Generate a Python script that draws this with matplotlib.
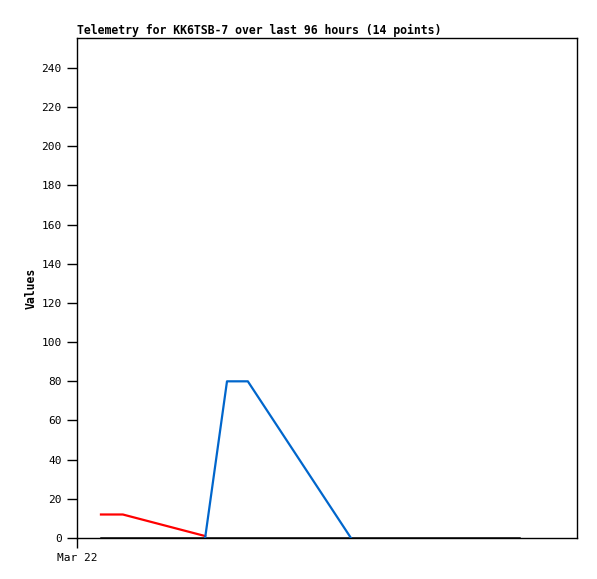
import matplotlib
matplotlib.use('Agg')
import matplotlib.pyplot as plt

# ── Data (hours after Mar 22 00:00)
red_hours   = [4.6, 8.8, 24.6]
red_values  = [12, 12, 1]

blue_hours  = [24.6, 28.8, 32.8, 52.6]
blue_values = [0, 80, 80, 0]

black_hours  = [4.6, 8.8, 24.6, 28.8, 32.8, 52.6, 84.9]
black_values = [0, 0, 0, 0, 0, 0, 0]

y_ticks = [0, 20, 40, 60, 80, 100, 120, 140, 160, 180, 200, 220, 240]
x_ticks = [0]
x_ticklabels = ['Mar 22']

FONT = 'DejaVu Sans Mono'

fig = plt.figure(figsize=(5.97, 5.79), dpi=100)
ax = fig.add_axes([77 / 597, 41 / 579, 500 / 597, 500 / 579])

ax.plot(black_hours, black_values, color='black', linewidth=1.8, zorder=2)
ax.plot(red_hours, red_values, color='#ff0000', linewidth=1.6, zorder=3)
ax.plot(blue_hours, blue_values, color='#0066cc', linewidth=1.6, zorder=3)

ax.set_xlim(0, 96)
ax.set_ylim(0, 255.3)
ax.set_yticks(y_ticks)
ax.set_yticklabels([str(v) for v in y_ticks], fontfamily=FONT, fontsize=8)
ax.set_xticks(x_ticks)
ax.set_xticklabels(x_ticklabels, fontfamily=FONT, fontsize=8)
ax.tick_params(axis='both', direction='out', length=7, width=1, pad=4)

for sp in ax.spines.values():
    sp.set_linewidth(1)

ax.set_title('Telemetry for KK6TSB-7 over last 96 hours (14 points)',
             fontfamily=FONT, fontsize=8.3, fontweight='bold', loc='left', pad=3)
ax.set_ylabel('Values', fontfamily=FONT, fontsize=8.3, fontweight='bold', labelpad=3)

fig.savefig('out.png', dpi=100)
